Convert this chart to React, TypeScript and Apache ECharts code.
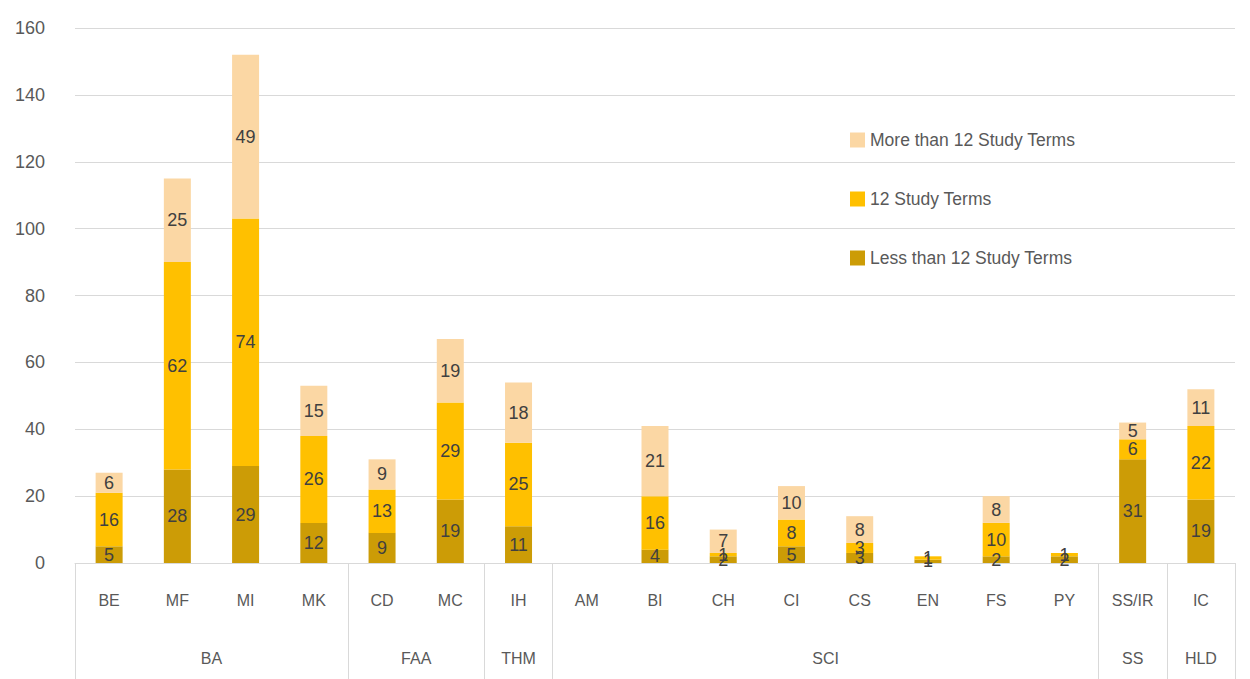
import React, { useEffect, useRef } from "react";
import * as echarts from "echarts";

const categories = ["BE", "MF", "MI", "MK", "CD", "MC", "IH", "AM", "BI", "CH", "CI", "CS", "EN", "FS", "PY", "SS/IR", "IC"];
const groupNames = ["BA", "FAA", "THM", "SCI", "SS", "HLD"];
const groupSizes = [4, 2, 1, 8, 1, 1];
const lessThan12 = [5, 28, 29, 12, 9, 19, 11, 0, 4, 2, 5, 3, 1, 2, 2, 31, 19];
const exactly12 = [16, 62, 74, 26, 13, 29, 25, 0, 16, 1, 8, 3, 1, 10, 1, 6, 22];
const moreThan12 = [6, 25, 49, 15, 9, 19, 18, 0, 21, 7, 10, 8, 0, 8, 0, 5, 11];
const seriesNames = ["Less than 12 Study Terms", "12 Study Terms", "More than 12 Study Terms"];
const seriesColors = ["#CC9C06", "#FFC000", "#FBD7A4"];

const boundaries: number[] = [0];
const centers: number[] = [];
groupSizes.forEach((s) => {
  const start = boundaries[boundaries.length - 1];
  centers.push(start + s / 2);
  boundaries.push(start + s);
});

export default function App() {
  const ref = useRef<HTMLDivElement>(null);
  useEffect(() => {
    if (!ref.current) return;
    const chart = echarts.init(ref.current, null, { renderer: "svg" });
    const font = "Liberation Sans, Arial, sans-serif";
    const datasets = [lessThan12, exactly12, moreThan12];
    chart.setOption({
      animation: false,
      textStyle: { fontFamily: font },
      grid: { left: 75, right: 15, top: 28, bottom: 116, containLabel: false },
      legend: {
        data: [seriesNames[2], seriesNames[1], seriesNames[0]],
        orient: "vertical",
        left: 845,
        top: 126,
        itemWidth: 15,
        itemHeight: 15,
        itemGap: 41,
        icon: "rect",
        textStyle: { fontSize: 17.5, color: "#595959", fontFamily: font },
      },
      xAxis: [
        {
          type: "category",
          data: categories,
          axisLine: { show: true, lineStyle: { color: "#d9d9d9" } },
          axisTick: { show: false },
          axisLabel: { color: "#595959", fontSize: 16, margin: 29, fontFamily: font, interval: 0 },
        },
        {
          type: "value",
          min: 0,
          max: categories.length,
          position: "bottom",
          axisLine: { show: false },
          splitLine: { show: false },
          axisTick: { show: true, customValues: boundaries, length: 116, lineStyle: { color: "#d9d9d9" } },
          axisLabel: {
            show: true,
            customValues: centers,
            margin: 87,
            color: "#595959",
            fontSize: 16,
            fontFamily: font,
            formatter: (v: number) => {
              const i = centers.findIndex((c) => Math.abs(c - v) < 1e-6);
              return i >= 0 ? groupNames[i] : "";
            },
          },
        },
      ],
      yAxis: {
        type: "value",
        min: 0,
        max: 160,
        interval: 20,
        axisLine: { show: false },
        axisTick: { show: false },
        splitLine: { lineStyle: { color: "#d9d9d9" } },
        axisLabel: { color: "#595959", fontSize: 18, margin: 30, fontFamily: font },
      },
      series: datasets.map((d, i) => ({
        name: seriesNames[i],
        type: "bar",
        stack: "total",
        xAxisIndex: 0,
        barWidth: 27,
        itemStyle: { color: seriesColors[i] },
        label: {
          show: true,
          position: "inside",
          color: "#404040",
          fontSize: 18,
          fontFamily: font,
          formatter: (p: any) => (p.value ? String(p.value) : ""),
        },
        data: d,
      })),
    });
    return () => chart.dispose();
  }, []);
  return <div ref={ref} style={{ position: "fixed", left: 0, top: 0, width: 1250, height: 679, background: "#fff" }} />;
}
